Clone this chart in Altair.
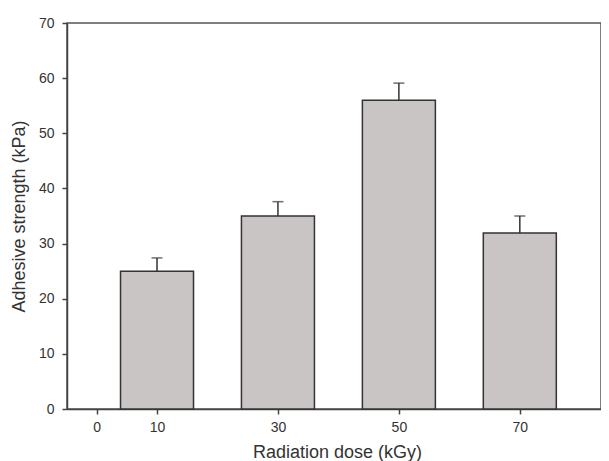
import altair as alt
import pandas as pd

doses = [10, 30, 50, 70]
strength = [25.0, 35.0, 56.0, 31.9]
error = [2.4, 2.6, 3.1, 3.1]
x_ticks = [0, 10, 30, 50, 70]
y_ticks = [0, 10, 20, 30, 40, 50, 60, 70]

df = pd.DataFrame({"dose": doses, "strength": strength, "err": error})

x_scale = alt.Scale(domain=[-4.06, 82.6], nice=False, zero=False)
y_scale = alt.Scale(domain=[0, 70], nice=False)

common = dict(grid=False, domainColor="#444", domainWidth=1.5, tickColor="#444",
              tickWidth=1.5, tickSize=5, labelFont="Liberation Sans", labelFontSize=14,
              labelColor="#333", titleFont="Liberation Sans", titleFontSize=18,
              titleFontWeight="normal", titleColor="#333")

x_axis = alt.Axis(values=x_ticks, title="Radiation dose (kGy)", labelPadding=6,
                  titleY=48, titleBaseline="alphabetic", titleX=270, titleAlign="center",
                  **common)
y_axis = alt.Axis(values=y_ticks, title="Adhesive strength (kPa)", labelPadding=8,
                  titlePadding=10, **common)

base = alt.Chart(df)

bars = base.mark_bar(size=73, color="#c9c5c4", stroke="#333", strokeWidth=1.5).encode(
    x=alt.X("dose:Q", scale=x_scale, axis=x_axis),
    y=alt.Y("strength:Q", scale=y_scale, axis=y_axis),
)

stems = base.transform_calculate(top="datum.strength + datum.err").mark_rule(
    color="#333", strokeWidth=1.5).encode(
    x="dose:Q",
    y="strength:Q",
    y2="top:Q",
)

caps = base.transform_calculate(top="datum.strength + datum.err").mark_tick(
    color="#333", thickness=1.5, size=11, orient="horizontal").encode(
    x="dose:Q",
    y="top:Q",
)

chart = (stems + caps + bars).properties(
    width=534, height=386,
    autosize=alt.AutoSizeParams(type="none"),
    padding={"left": 59, "top": 15, "right": 0, "bottom": 52},
).configure_view(stroke="#555", strokeWidth=1.5)

chart.save("out.html", embed_options={"renderer": "svg", "actions": False})
